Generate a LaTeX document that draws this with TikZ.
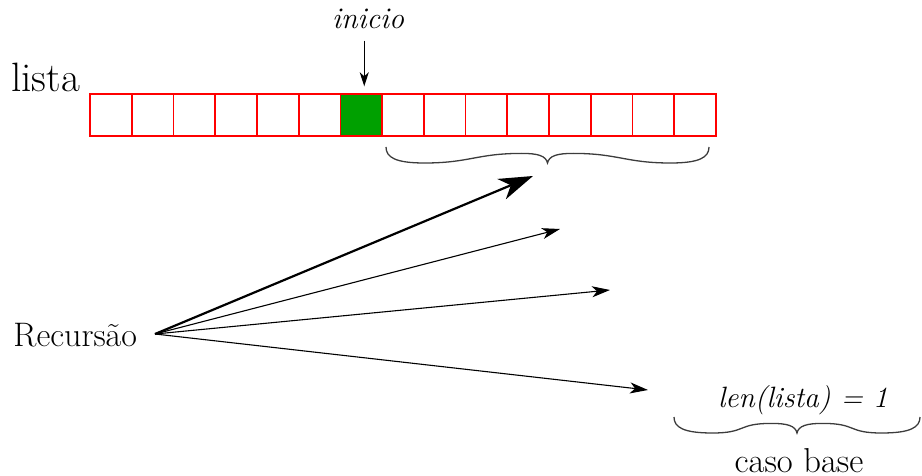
\documentclass[tikz,border=0pt]{standalone}
\usepackage{tikz}
\usetikzlibrary{arrows.meta}
\definecolor{cellgreen}{RGB}{0,160,0}
\definecolor{bracegray}{RGB}{60,60,60}
\tikzset{
  cell/.style={draw=red, line width=0.85pt, minimum size=20.85pt, inner sep=0pt},
  label/.style={inner sep=0pt, text=black},
  thinarrow/.style={line width=0.55pt, -{Stealth[length=9pt,width=5.5pt,inset=2.5pt]}},
  thickarrow/.style={line width=1.1pt, -{Stealth[length=17pt,width=11pt,inset=5pt]}},
  bracestyle/.style={draw=bracegray, line width=0.65pt},
}
% smooth curly brace opening downwards: x-left, x-right, top y, depth
\newcommand{\downbrace}[4]{%
  \pgfmathsetmacro\bxm{(#1+#2)/2}%
  \pgfmathsetmacro\bL{(#2-#1)*0.14}%
  \draw[bracestyle]
    (#1,#3) .. controls (#1,#3-0.65*#4) and (#1+0.6*#4,#3-#4) .. (#1+2.4*#4,#3-#4)
    .. controls (#1+2.4*#4+\bL,#3-#4) and (\bxm-1.6*#4-\bL,#3-0.4*#4) .. (\bxm-1.6*#4,#3-0.4*#4)
    .. controls (\bxm-0.6*#4,#3-0.4*#4) and (\bxm-0.1*#4,#3-0.55*#4) .. (\bxm,#3-#4)
    .. controls (\bxm+0.1*#4,#3-0.55*#4) and (\bxm+0.6*#4,#3-0.4*#4) .. (\bxm+1.6*#4,#3-0.4*#4)
    .. controls (\bxm+1.6*#4+\bL,#3-0.4*#4) and (#2-2.4*#4-\bL,#3-#4) .. (#2-2.4*#4,#3-#4)
    .. controls (#2-0.6*#4,#3-#4) and (#2,#3-0.65*#4) .. (#2,#3);%
}
\begin{document}
\begin{tikzpicture}[x=0.5pt, y=0.5pt]
  \useasboundingbox (0,0) rectangle (922,-476);

  % the array of cells
  \foreach \i in {1,...,15} {
    \node[cell] (c\i) at ({90+41.73*(\i-0.5)}, -115) {};
  }
  \node[cell, fill=cellgreen] at (c7) {};

  \node[label, anchor=base west] (lista) at (11,-92)
    {\fontsize{20.5pt}{24pt}\selectfont lista};

  % start index pointer
  \node[label, anchor=base] (inicio) at (368,-29)
    {\fontsize{15pt}{18pt}\selectfont\itshape inicio};
  \draw[line width=0.55pt, -{Stealth[length=7pt,width=4.5pt,inset=2pt]},
        shorten <=5.5pt, shorten >=3.5pt]
    (inicio.south -| c7.north) ++(3,0) coordinate (ia) -- (ia |- c7.north);

  % brace under the rest of the list
  \downbrace{386}{709}{-147}{16}

  % recursive calls
  \node[label, anchor=base west] (rec) at (13,-346)
    {\fontsize{17pt}{20pt}\selectfont Recurs\~ao};
  \coordinate (o) at (155,-334);
  \coordinate (t1) at (533,-176);
  \coordinate (t2) at (560,-229);
  \coordinate (t3) at (610,-290);
  \coordinate (t4) at (648,-390);
  \draw[thickarrow] (o) -- (t1);
  \draw[thinarrow] (o) -- (t2);
  \draw[thinarrow] (o) -- (t3);
  \draw[thinarrow] (o) -- (t4);

  % base case
  \node[label, anchor=base] (len) at (803,-407)
    {\fontsize{14.7pt}{18pt}\selectfont\itshape len(lista) = 1};
  \downbrace{674}{920}{-417}{16}
  \node[label, anchor=base] (base) at (799,-472)
    {\fontsize{17.3pt}{20pt}\selectfont caso base};
\end{tikzpicture}
\end{document}
